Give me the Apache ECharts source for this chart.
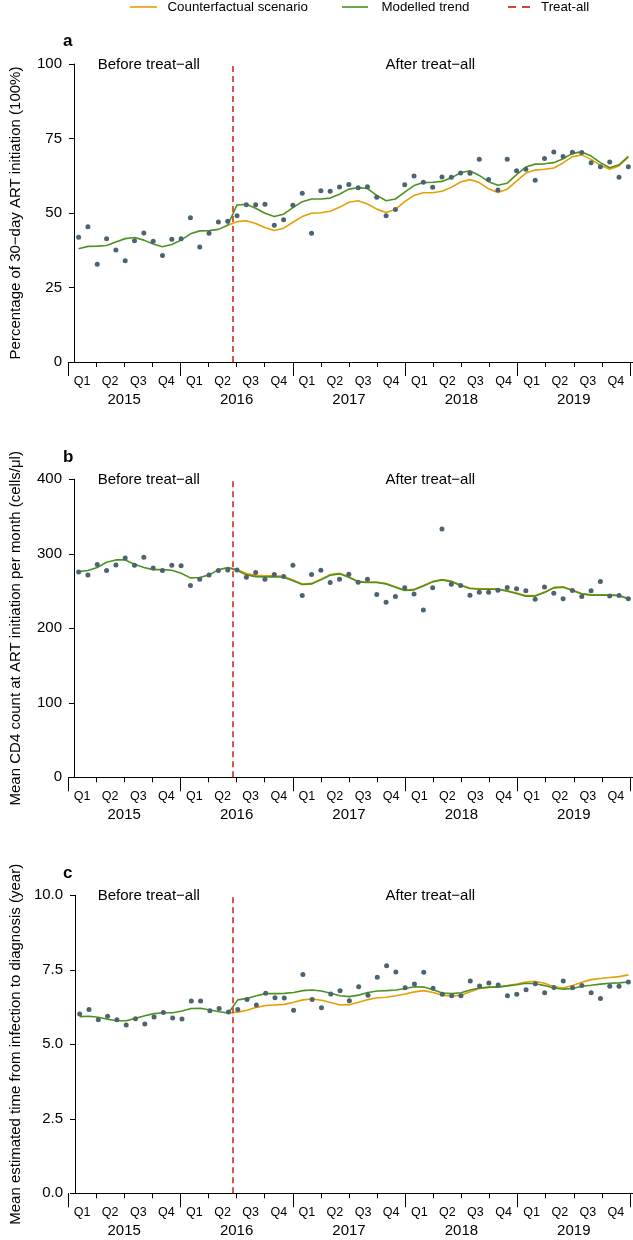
<!DOCTYPE html>
<html><head><meta charset="utf-8">
<script src="https://cdn.jsdelivr.net/npm/echarts/dist/echarts.min.js"></script>
<style>html,body{margin:0;padding:0;background:#fff}#c{width:633px;height:1240px}</style>
</head><body><div id="c"></div>
<script>
const quarterLabels = ['Q1','Q2','Q3','Q4'];
const yearLabels = ['2015','2016','2017','2018','2019'];
const legendLabels = ['Counterfactual scenario','Modelled trend','Treat-all'];
const treatAllMonth = 17;          // boundary between May and June 2016
const counterfactualStart = 16;    // first month index of counterfactual line

// Panel a: 30-day ART initiation (%)
const aPoints = [41.9,45.4,32.8,41.4,37.6,34.0,40.7,43.3,40.5,35.7,41.2,41.4,
  48.4,38.6,43.2,47.0,47.2,49.1,52.8,52.8,52.9,45.9,47.7,52.6,
  56.6,43.2,57.5,57.3,58.7,59.6,58.5,58.8,55.3,49.1,51.2,59.5,
  62.4,60.3,58.6,62.1,62.0,63.4,63.3,68.0,61.2,57.7,68.0,64.2,
  64.7,61.0,68.3,70.5,69.0,70.4,70.3,66.9,65.5,67.1,62.0,65.5];
const aTrend = [38.0,38.8,38.9,39.1,40.3,41.4,41.8,40.9,39.6,38.7,39.4,40.9,
  43.0,44.0,44.1,44.5,45.9,52.7,52.9,51.6,49.9,48.8,49.6,51.8,
  53.8,54.7,54.7,55.0,56.3,58.0,58.5,58.2,55.9,54.1,54.7,57.0,
  59.2,60.2,60.3,60.6,61.8,63.5,64.2,62.6,60.5,59.3,60.0,62.9,
  65.4,66.4,66.5,66.9,68.2,70.0,70.5,69.1,66.9,65.2,66.2,69.0];
const aCounterfactual = [45.9,47.1,47.4,46.5,45.1,44.1,44.9,46.9,48.8,49.9,
  50.1,50.6,51.9,53.6,54.1,53.0,51.3,50.2,51.2,53.8,
  55.9,56.8,56.8,57.3,58.6,60.4,61.2,60.2,58.1,56.9,
  58.0,60.7,63.4,64.4,64.7,65.1,66.8,68.9,69.5,68.0,
  66.0,64.7,65.8,68.7];

// Panel b: mean CD4 count
const bPoints = [275.7,271.7,285.5,277.5,285.1,294.5,284.7,295.4,281.1,277.5,284.7,283.8,
  257.4,266.0,271.7,277.5,278.4,278.4,268.6,274.8,266.0,272.1,269.4,284.7,
  244.0,272.1,278.0,261.4,266.0,272.6,261.9,266.0,245.4,235.1,242.7,254.3,
  246.2,224.4,254.3,333.4,259.2,257.4,244.5,248.5,248.5,251.2,254.7,253.0,
  250.3,239.1,255.6,247.2,239.5,250.7,242.7,250.3,262.7,243.2,244.0,239.5];
const bTrend = [276.1,277.5,281.5,288.7,291.8,291.8,286.1,281.5,278.8,278.8,278.0,274.0,
  267.7,268.1,271.7,278.4,281.5,277.5,271.7,269.4,269.0,269.4,268.6,263.7,
  258.7,259.6,265.0,271.3,273.1,268.6,262.3,261.4,261.4,259.6,255.2,250.7,
  251.6,256.9,262.3,265.0,262.7,257.4,253.4,252.5,252.5,252.5,249.9,246.6,
  243.2,243.2,248.0,254.3,255.2,250.7,246.2,244.5,244.5,244.5,243.6,239.5];
const bCounterfactual = [281.5,279.0,273.5,271.0,270.5,270.5,269.8,265.0,259.5,260.3,
  265.8,272.0,273.8,269.3,263.0,262.0,262.0,260.2,255.8,251.3,
  252.2,257.5,262.9,265.6,263.3,258.0,254.0,253.1,253.1,253.1,
  250.5,247.2,243.8,243.8,248.6,254.9,255.8,251.3,246.8,245.1,
  245.1,245.1,244.2,240.1];

// Panel c: time from infection to diagnosis (years)
const cPoints = [6.02,6.17,5.82,5.94,5.82,5.65,5.86,5.68,5.92,6.07,5.88,5.85,
  6.45,6.45,6.13,6.20,6.08,6.17,6.50,6.32,6.71,6.56,6.55,6.14,
  7.34,6.50,6.23,6.69,6.80,6.46,6.93,6.65,7.25,7.64,7.43,6.90,
  7.02,7.42,6.88,6.68,6.63,6.63,7.12,6.96,7.06,6.99,6.63,6.68,
  6.83,7.03,6.73,6.91,7.12,6.90,6.97,6.73,6.54,6.95,6.95,7.09];
const cTrend = [5.93,5.94,5.91,5.84,5.79,5.79,5.87,5.96,6.03,6.06,6.06,6.12,
  6.20,6.21,6.15,6.09,6.05,6.49,6.54,6.63,6.70,6.70,6.71,6.74,
  6.80,6.82,6.79,6.71,6.63,6.60,6.65,6.74,6.79,6.80,6.82,6.87,
  6.93,6.92,6.83,6.72,6.70,6.73,6.82,6.89,6.92,6.92,6.96,7.00,
  7.05,7.03,6.97,6.89,6.85,6.87,6.95,6.98,7.02,7.05,7.06,7.09];
const cCounterfactual = [6.05,6.08,6.14,6.24,6.30,6.32,6.34,6.41,6.49,6.52,
  6.48,6.40,6.32,6.33,6.41,6.50,6.56,6.58,6.63,6.69,
  6.76,6.80,6.74,6.65,6.61,6.65,6.76,6.87,6.91,6.93,
  6.97,7.02,7.09,7.11,7.05,6.93,6.89,6.97,7.08,7.17,
  7.21,7.24,7.27,7.33];

const FONT = '"Liberation Sans", Arial, Helvetica, sans-serif';
const C_ORANGE = '#E69F00', C_GREEN = '#4D9221', C_RED = '#D0473A', C_PT = '#4C6372';
const H = 298;

const panels = [
  {letter:'a', top:64,    max:100, interval:25,  dec:0, name:'Percentage of 30\u2212day ART initiation (100%)', pts:aPoints, trend:aTrend, cf:aCounterfactual},
  {letter:'b', top:479.3, max:400, interval:100, dec:0, name:'Mean CD4 count at ART initiation per month (cells/\u03bcl)', pts:bPoints, trend:bTrend, cf:bCounterfactual},
  {letter:'c', top:895.3, max:10,  interval:2.5, dec:1, name:'Mean estimated time from infection to diagnosis (year)', pts:cPoints, trend:cTrend, cf:cCounterfactual}
];

const grid = [], xAxis = [], yAxis = [], series = [], graphic = [];
const noAxis = {axisLine:{show:false}, axisTick:{show:false}, axisLabel:{show:false}, splitLine:{show:false}};

panels.forEach(p => {
  const gA = grid.length;
  grid.push({left:64, right:0, top:p.top, height:H});
  const gB = grid.length;
  grid.push({left:68, right:0, top:p.top, height:H});

  const xData = xAxis.length;
  xAxis.push(Object.assign({}, noAxis, {gridIndex:gA, type:'value', min:-0.425, max:60, position:'bottom',
    axisLine:{show:true, onZero:false, lineStyle:{color:'#000', width:1}}}));
  xAxis.push(Object.assign({}, noAxis, {gridIndex:gB, type:'value', min:0, max:60, interval:3, position:'bottom',
    axisTick:{show:true, length:5, lineStyle:{color:'#000', width:1}}}));
  xAxis.push(Object.assign({}, noAxis, {gridIndex:gB, type:'value', min:0, max:60, interval:12, position:'bottom',
    axisTick:{show:true, length:14, lineStyle:{color:'#000', width:1}}}));
  xAxis.push(Object.assign({}, noAxis, {gridIndex:gB, type:'value', min:0, max:60, interval:1.5, position:'bottom',
    axisLabel:{show:true, margin:13, fontSize:12.5, color:'#000', fontFamily:FONT,
      formatter: v => Math.abs((v % 3) - 1.5) < 1e-6 ? quarterLabels[Math.floor(v / 3) % 4] : ''}}));
  xAxis.push(Object.assign({}, noAxis, {gridIndex:gB, type:'value', min:0, max:60, interval:6, position:'bottom',
    axisLabel:{show:true, margin:30, fontSize:15, color:'#000', fontFamily:FONT,
      formatter: v => (v % 12 === 6) ? yearLabels[(v - 6) / 12] : ''}}));

  const yData = yAxis.length;
  yAxis.push({gridIndex:gA, type:'value', min:0, max:p.max, interval:p.interval,
    axisLine:{show:true, lineStyle:{color:'#000', width:1}},
    axisTick:{show:true, length:5, lineStyle:{color:'#000', width:1}},
    axisLabel:{margin:8, fontSize:15, color:'#000', fontFamily:FONT, formatter: v => v.toFixed(p.dec)},
    splitLine:{show:false},
    name:p.name, nameLocation:'middle', nameGap:47,
    nameTextStyle:{fontSize:15, color:'#000', fontFamily:FONT}});
  yAxis.push(Object.assign({}, noAxis, {gridIndex:gB, type:'value', min:0, max:p.max, show:false}));

  series.push({name:legendLabels[0], type:'line', xAxisIndex:xData, yAxisIndex:yData,
    symbol:'none', silent:true, z:2,
    lineStyle:{color:C_ORANGE, width:1.6}, itemStyle:{color:C_ORANGE},
    data:p.cf.map((v, j) => [counterfactualStart + j + 0.5, v])});
  series.push({name:legendLabels[1], type:'line', xAxisIndex:xData, yAxisIndex:yData,
    symbol:'none', silent:true, z:3,
    lineStyle:{color:C_GREEN, width:1.6}, itemStyle:{color:C_GREEN},
    data:p.trend.map((v, i) => [i + 0.5, v])});
  series.push({name:'points', type:'scatter', xAxisIndex:xData, yAxisIndex:yData,
    symbolSize:5, silent:true, z:4, itemStyle:{color:C_PT, opacity:1},
    data:p.pts.map((v, i) => [i + 0.5, v])});
  series.push({name:legendLabels[2], type:'line', xAxisIndex:xData, yAxisIndex:yData,
    symbol:'none', silent:true, z:5,
    lineStyle:{color:C_RED, width:1.8, type:[6,4]}, itemStyle:{color:C_RED},
    data:[],
    markLine:{symbol:'none', silent:true, label:{show:false},
      lineStyle:{color:C_RED, width:1.8, type:[6,4]},
      data:[{xAxis:treatAllMonth}]}});

  graphic.push({type:'text', x:63, y:p.top - 22.3,
    style:{text:p.letter, font:'bold 17px ' + FONT, fill:'#000', align:'left', verticalAlign:'middle'}});
  graphic.push({type:'text', x:148.8, y:p.top + 0.5,
    style:{text:'Before treat\u2212all', font:'15px ' + FONT, fill:'#000', align:'center', verticalAlign:'middle'}});
  graphic.push({type:'text', x:430.3, y:p.top + 0.5,
    style:{text:'After treat\u2212all', font:'15px ' + FONT, fill:'#000', align:'center', verticalAlign:'middle'}});
});

// legend drawn as key lines + labels
const LY = 7;
const legendItems = [
  {x1:130, x2:157, tx:167.5, color:C_ORANGE, dash:null, w:1.6},
  {x1:342, x2:368, tx:381.5, color:C_GREEN, dash:null, w:1.6},
  {x1:508, x2:530, tx:541, color:C_RED, dash:[8,6], w:1.8}
];
legendItems.forEach((it, k) => {
  graphic.push({type:'line', shape:{x1:it.x1, y1:LY, x2:it.x2, y2:LY},
    style:{stroke:it.color, lineWidth:it.w, lineDash:it.dash}});
  graphic.push({type:'text', x:it.tx, y:LY,
    style:{text:legendLabels[k], font:'13.3px ' + FONT, fill:'#000', align:'left', verticalAlign:'middle'}});
});

const chart = echarts.init(document.getElementById('c'), null, {renderer:'canvas'});
chart.setOption({
  animation:false,
  backgroundColor:'#fff',
  grid, xAxis, yAxis, series, graphic
});
</script></body></html>
